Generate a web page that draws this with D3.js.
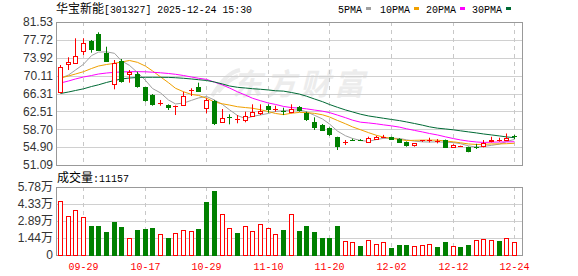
<!DOCTYPE html>
<html>
<head>
<meta charset="utf-8">
<script src="https://cdn.jsdelivr.net/npm/d3@7"></script>
<style>
body { margin: 0; background: #fff; }
svg { display: block; }
</style>
</head>
<body>
<div id="chart"></div>
<script>
// 60 trading days on screen
var dates = ["09-24","09-25","09-26","09-29","09-30","10-09","10-10","10-13","10-14","10-15",
    "10-16","10-17","10-20","10-21","10-22","10-23","10-24","10-27","10-28","10-29",
    "10-30","10-31","11-03","11-04","11-05","11-06","11-07","11-10","11-11","11-12",
    "11-13","11-14","11-17","11-18","11-19","11-20","11-21","11-24","11-25","11-26",
    "11-27","11-28","12-01","12-02","12-03","12-04","12-05","12-08","12-09","12-10",
    "12-11","12-12","12-15","12-16","12-17","12-18","12-19","12-22","12-23","12-24"];

var open = [66.69,72.53,72.74,75.42,77.49,78.91,75.00,68.27,73.23,70.40,
    70.40,67.63,65.99,64.30,63.86,63.40,63.86,66.95,67.76,63.16,
    64.71,60.31,61.40,60.80,60.67,61.58,62.22,63.65,62.95,62.50,
    62.44,63.50,62.10,60.31,59.60,59.03,57.11,55.90,56.45,56.45,
    56.05,56.60,57.10,57.00,56.60,56.05,55.35,56.10,56.40,56.15,
    56.41,55.00,55.10,54.99,54.95,55.20,56.10,56.40,56.41,57.20];
var high = [72.38,74.02,78.06,78.06,77.70,79.34,76.27,73.44,73.65,71.31,
    70.95,67.70,66.20,64.93,64.00,63.75,66.69,67.42,68.61,65.29,
    64.93,63.01,61.88,61.73,62.44,64.01,64.01,64.00,63.71,63.29,
    64.01,63.65,62.44,61.24,59.82,59.10,57.11,56.41,56.70,56.60,
    57.11,57.30,57.50,57.10,56.80,56.10,55.70,56.40,56.90,56.60,
    56.50,55.50,55.20,55.00,55.60,56.41,57.10,56.90,57.80,57.50];
var low = [66.35,71.31,72.60,74.51,75.00,75.40,73.10,67.20,68.61,68.61,
    67.55,64.56,63.71,63.71,62.80,61.73,63.70,65.78,66.69,62.10,
    59.60,60.30,59.75,59.97,60.18,61.50,61.73,62.22,62.44,61.73,
    62.10,62.44,60.46,58.54,58.33,57.26,54.28,55.35,56.20,56.20,
    56.00,56.50,56.80,56.50,55.80,54.99,55.00,56.00,55.90,55.70,
    54.90,54.80,55.00,53.80,54.50,54.85,55.90,56.05,56.20,56.60];
var close = [71.89,72.95,74.29,77.00,75.78,75.57,73.23,72.74,68.97,70.95,
    67.91,64.93,64.08,64.35,63.37,63.70,65.84,67.00,66.90,64.93,
    59.97,61.03,61.35,60.85,61.58,62.31,62.65,62.95,63.00,62.45,
    62.95,62.80,60.88,59.24,58.54,57.63,55.20,55.95,56.40,56.35,
    56.77,57.10,57.15,56.60,56.05,55.35,55.70,56.35,56.45,56.20,
    54.99,55.35,55.15,54.13,54.90,55.70,56.50,56.45,56.90,57.11];
var volume = [45700,33000,38080,32160,24540,24540,19460,27930,23700,14390,
    21160,22260,23100,17770,14390,18620,21160,20310,22260,44850,
    54160,34700,22850,18620,24540,20310,26230,22850,17770,21160,
    34700,20310,24540,19460,14390,14390,24540,11590,10750,7620,
    12440,9050,10750,5920,8460,8460,7620,8460,9050,6770,
    11000,7620,6770,8460,12440,13290,12440,11590,14130,11157];

// moving-average values at the left edge (their window starts before the first day shown)
var ma5Head = [69.55,70.25,71.31,72.53];
var ma10Head = [69.61,70.04,70.46,70.95,71.63,72.16,72.48,72.74,73.02];
var ma20Head = [68.55,68.97,69.40,69.82,70.14,70.46,70.67,70.82,70.89,70.95,
    70.95,70.93,70.84,70.72,70.57,70.40,70.14,69.82,69.55];
var ma30Head = [66.31,66.63,66.95,67.31,67.80,68.16,68.66,69.08,69.40,69.61,
    69.72,69.76,69.76,69.76,69.74,69.67,69.55,69.40,69.25,69.08,
    68.76,68.33,67.91,67.63,67.48,67.33,67.21,67.06,66.89];

var priceTicks = [51.09,54.90,58.70,62.51,66.31,70.11,73.92,77.72,81.53];
var volTicks = [0,14400,28900,43300,57800];
var dateTicks = ["09-29","10-17","10-29","11-10","11-20","12-02","12-12","12-24"];

var maNames = ["5PMA","10PMA","20PMA","30PMA"];
var maColors = ["#a0a0a0","#f0a000","#ff00ff","#006a35"];

function movingAvg(n, head) {
    return close.map(function(c, i) {
        if (i < head.length) return head[i];
        return d3.mean(close.slice(i - n + 1, i + 1));
    });
}
var maLines = [movingAvg(5, ma5Head), movingAvg(10, ma10Head),
    movingAvg(20, ma20Head), movingAvg(30, ma30Head)];

var w = 578, h = 276;
var left = 56, right = 522;
var pTop = 22, pBottom = 165;
var vTop = 187, vBottom = 255;
var red = "#ff0000", green = "#008000";
var monoFont = "'Liberation Mono', 'DejaVu Sans Mono', monospace";
var cjkFont = "'Noto Sans CJK SC', sans-serif";
var labelFont = "'Liberation Sans', Arial, 'Noto Sans CJK SC', sans-serif";

var svg = d3.select("#chart").append("svg")
    .attr("width", w)
    .attr("height", h);

var x = d3.scaleBand().domain(dates).range([left, 518]);
var y = d3.scaleLinear().domain([51.09, 81.53]).range([pBottom, pTop]);
var yv = d3.scaleLinear().domain([0, 57800]).range([vBottom, vTop]);

function xc(i) { return Math.round(x(dates[i]) + x.bandwidth() / 2); }
function crisp(v) { return Math.round(v) + 0.5; }

// watermark
svg.append("text")
    .attr("x", 232).attr("y", 95)
    .attr("font-family", cjkFont)
    .attr("font-size", 30)
    .attr("font-weight", "bold")
    .attr("font-style", "italic")
    .attr("letter-spacing", 4)
    .attr("fill", "#ececec")
    .text("东方财富");
svg.append("path")
    .attr("d", "M212,96 C222,80 230,72 240,70 M218,92 C226,82 232,78 238,76")
    .attr("fill", "none")
    .attr("stroke", "#ececec")
    .attr("stroke-width", 4);

// horizontal grid
svg.append("g").selectAll("line")
    .data(priceTicks.slice(1, -1))
    .enter().append("line")
    .attr("x1", left).attr("x2", right)
    .attr("y1", function(d) { return crisp(y(d)); })
    .attr("y2", function(d) { return crisp(y(d)); })
    .attr("stroke", "#d0d0d0");
svg.append("g").selectAll("line")
    .data(volTicks.slice(1, -1))
    .enter().append("line")
    .attr("x1", left).attr("x2", right)
    .attr("y1", function(d) { return crisp(yv(d)); })
    .attr("y2", function(d) { return crisp(yv(d)); })
    .attr("stroke", "#d0d0d0");

// vertical dashed grid on both panels
[[pTop, pBottom], [vTop, vBottom]].forEach(function(p) {
    svg.append("g").selectAll("line")
        .data(dateTicks)
        .enter().append("line")
        .attr("x1", function(d) { return xc(dates.indexOf(d)) + 0.5; })
        .attr("x2", function(d) { return xc(dates.indexOf(d)) + 0.5; })
        .attr("y1", p[0]).attr("y2", p[1])
        .attr("stroke", "#c8c8c8")
        .attr("stroke-dasharray", "4,4");
});

// frames
[[pTop, pBottom], [vTop, vBottom]].forEach(function(p) {
    svg.append("rect")
        .attr("x", left + 0.5).attr("y", p[0] + 0.5)
        .attr("width", right - left).attr("height", p[1] - p[0])
        .attr("fill", "none")
        .attr("stroke", "#999");
});

// moving averages
var line = d3.line()
    .x(function(d, i) { return xc(i) + 0.5; })
    .y(function(d) { return y(d); });
svg.append("g").selectAll("path")
    .data(maLines)
    .enter().append("path")
    .attr("d", line)
    .attr("fill", "none")
    .attr("stroke", function(d, i) { return maColors[i]; })
    .attr("stroke-width", 1);

// candles
var candles = svg.append("g").selectAll("g")
    .data(dates)
    .enter().append("g");
candles.each(function(d, i) {
    var g = d3.select(this);
    var up = close[i] > open[i];
    var col = up ? red : green;
    var cx = xc(i) + 0.5;
    var top = y(Math.max(open[i], close[i]));
    var bot = y(Math.min(open[i], close[i]));
    g.append("line")
        .attr("x1", cx).attr("x2", cx)
        .attr("y1", y(high[i])).attr("y2", y(low[i]))
        .attr("stroke", col);
    if (bot - top < 1.5) {
        g.append("line")
            .attr("x1", cx - 2.5).attr("x2", cx + 2.5)
            .attr("y1", crisp(top)).attr("y2", crisp(top))
            .attr("stroke", col);
    } else if (up) {
        g.append("rect")
            .attr("x", cx - 2).attr("y", crisp(top))
            .attr("width", 4).attr("height", Math.round(bot) - Math.round(top))
            .attr("fill", "#fff")
            .attr("stroke", col);
    } else {
        g.append("rect")
            .attr("x", cx - 2.5).attr("y", Math.round(top))
            .attr("width", 5).attr("height", Math.round(bot) - Math.round(top) + 1)
            .attr("fill", col);
    }
});

// volume bars, coloured by close against the previous close
svg.append("g").selectAll("rect")
    .data(volume)
    .enter().append("rect")
    .each(function(v, i) {
        var rise = i === 0 || close[i] >= close[i - 1];
        var r = d3.select(this);
        var top = Math.round(yv(v));
        if (rise) {
            r.attr("x", xc(i) - 1.5).attr("y", top + 0.5)
                .attr("width", 4).attr("height", vBottom - top)
                .attr("fill", "#fff").attr("stroke", red);
        } else {
            r.attr("x", xc(i) - 2).attr("y", top)
                .attr("width", 5).attr("height", vBottom - top + 1)
                .attr("fill", green);
        }
    });

// y axes
var yAxis = d3.axisLeft(y).tickValues(priceTicks)
    .tickFormat(d3.format(".2f")).tickSize(0).tickPadding(3);
var gy = svg.append("g").attr("transform", "translate(" + left + ",0)").call(yAxis);
var vAxis = d3.axisLeft(yv).tickValues(volTicks)
    .tickFormat(function(d) { return d === 0 ? "0" : (d / 10000).toFixed(2) + "万"; })
    .tickSize(0).tickPadding(3);
var gv = svg.append("g").attr("transform", "translate(" + left + ",0)").call(vAxis);
[gy, gv].forEach(function(g) {
    g.select(".domain").remove();
    g.attr("font-family", labelFont).attr("font-size", 12);
    g.selectAll("text").attr("fill", "#333");
});

// date labels
var xAxis = d3.axisBottom(x).tickValues(dateTicks).tickSize(0);
var gx = svg.append("g").attr("transform", "translate(0,0)").call(xAxis);
gx.select(".domain").remove();
gx.attr("font-family", monoFont).attr("font-size", 11);
gx.selectAll("text")
    .attr("y", 269.5).attr("dy", null)
    .attr("fill", red)
    .attr("textLength", 30)
    .attr("lengthAdjust", "spacingAndGlyphs");
gx.selectAll(".tick").attr("transform", function(d) {
    return "translate(" + (xc(dates.indexOf(d)) + 0.5) + ",0)";
});

// title
svg.append("text").attr("x", 56).attr("y", 12.5)
    .attr("font-family", cjkFont).attr("font-size", 12)
    .text("华宝新能");
svg.append("text").attr("x", 104).attr("y", 12.5)
    .attr("font-family", monoFont).attr("font-size", 11)
    .attr("textLength", 148).attr("lengthAdjust", "spacingAndGlyphs")
    .text("[301327] 2025-12-24 15:30");

// legend
var legendX = [338, 380, 426, 472];
maNames.forEach(function(name, i) {
    var tw = name.length * 6;
    svg.append("text").attr("x", legendX[i]).attr("y", 12.5)
        .attr("font-family", monoFont).attr("font-size", 11)
        .attr("textLength", tw).attr("lengthAdjust", "spacingAndGlyphs")
        .text(name);
    svg.append("rect")
        .attr("x", legendX[i] + tw + 4).attr("y", 7)
        .attr("width", 5).attr("height", 3)
        .attr("fill", maColors[i]);
});

// volume caption
svg.append("text").attr("x", 57).attr("y", 182)
    .attr("font-family", cjkFont).attr("font-size", 12)
    .text("成交量");
svg.append("text").attr("x", 93).attr("y", 182)
    .attr("font-family", monoFont).attr("font-size", 11)
    .attr("textLength", 36).attr("lengthAdjust", "spacingAndGlyphs")
    .text(":" + volume[volume.length - 1]);
</script>
</body>
</html>
